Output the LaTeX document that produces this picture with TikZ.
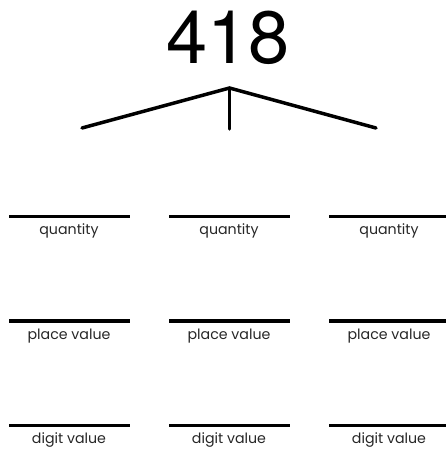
\documentclass[tikz,border=0pt]{standalone}
\usepackage{fontspec}
\setmainfont{Poppins}
\newfontfamily\numfont{TeX Gyre Heros}
\begin{document}
\begin{tikzpicture}[x=1pt,y=-1pt,
  branch/.style={line width=3.5pt,line cap=round},
  blank/.style={line width=3.6pt},
  lbl/.style={font=\fontsize{14.2}{16}\selectfont,text=black!85,inner sep=0pt,anchor=base}]
\useasboundingbox (0,0) rectangle (446,450);
\node[font=\numfont\fontsize{74}{74}\selectfont,inner sep=0pt,anchor=base] (num) at (228,63) {418};
\coordinate (apex) at (229.5,88);
\coordinate (bl) at (82,128);
\coordinate (bm) at (229.5,129);
\coordinate (br) at (376,128);
\draw[branch] (bl) -- (apex) -- (br);
\draw[branch] (apex) -- (bm);
\foreach \r/\y/\t in {1/216.5/quantity,2/321/place value,3/425.5/digit value}{
  \coordinate (a\r) at (9,\y); \coordinate (b\r) at (129.5,\y);
  \coordinate (c\r) at (169,\y); \coordinate (d\r) at (289.5,\y);
  \coordinate (e\r) at (329,\y); \coordinate (f\r) at (446,\y);
  \draw[blank] (a\r) -- (b\r);
  \draw[blank] (c\r) -- (d\r);
  \draw[blank] (e\r) -- (f\r);
  \node[lbl] (l\r a) at (69,\y+18) {\t};
  \node[lbl] (l\r b) at (229,\y+18) {\t};
  \node[lbl] (l\r c) at (389,\y+18) {\t};
}
\end{tikzpicture}
\end{document}
